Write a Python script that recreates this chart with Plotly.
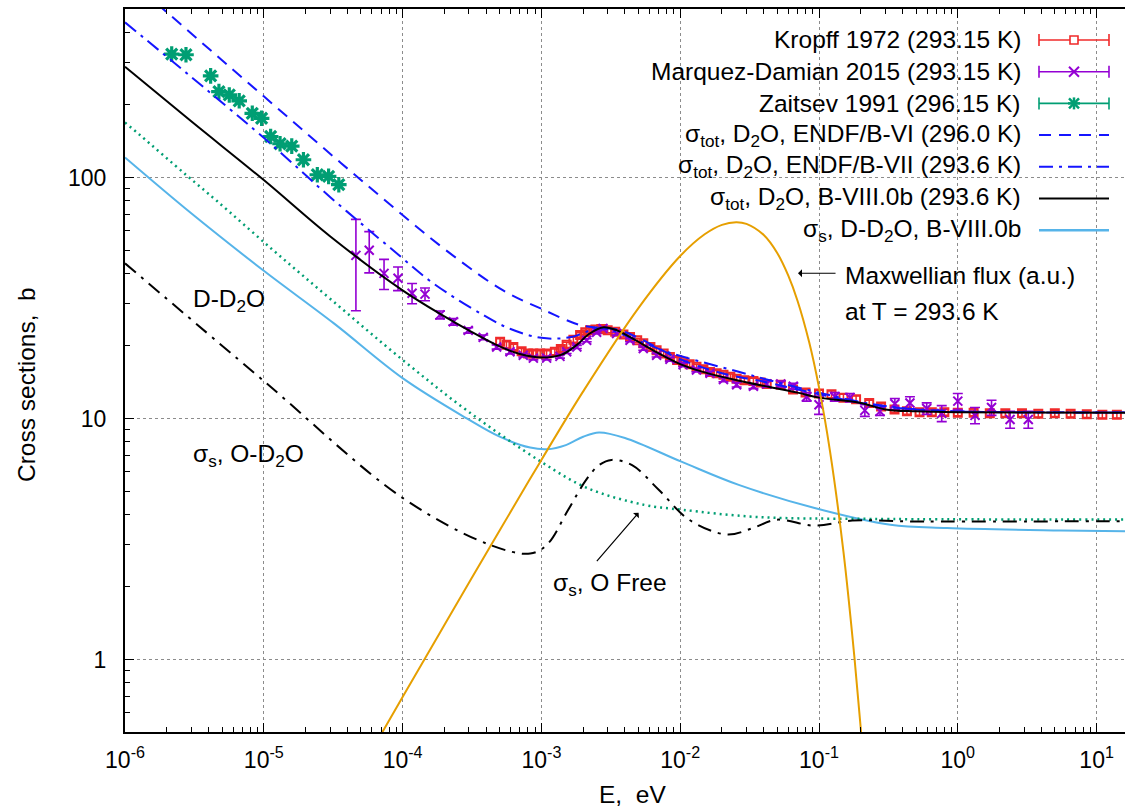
import plotly.graph_objects as go

# ------------------------------------------------------------------ data
# Kropff 1972 (293.15 K)
E_kropff = [5.04e-4, 5.6e-4, 6.28e-4, 7.2e-4, 8.0e-4, 8.75e-4, 9.8e-4, 1.09e-3, 1.25e-3, 1.38e-3,
            1.52e-3, 1.70e-3, 1.90e-3, 2.07e-3, 2.24e-3, 2.45e-3, 2.7e-3, 3.0e-3, 3.4e-3, 3.9e-3,
            4.35e-3, 4.9e-3, 5.42e-3, 6.1e-3, 6.76e-3, 7.6e-3, 8.43e-3, 9.5e-3, 1.05e-2, 1.17e-2,
            1.31e-2, 1.47e-2, 1.64e-2, 1.83e-2, 2.05e-2, 2.3e-2, 2.55e-2, 2.9e-2, 3.37e-2, 3.8e-2,
            4.2e-2, 5.3e-2, 6.5e-2, 8.0e-2, 0.1, 0.123, 0.15, 0.185, 0.23, 0.28,
            0.35, 0.43, 0.53, 0.65, 0.8, 1.0, 1.3, 1.7, 2.2, 2.9,
            3.8, 5.0, 6.5, 8.5, 11.0, 14.0]
sig_kropff = [20.8, 20.2, 19.8, 19.0, 18.6, 18.6, 18.6, 18.6, 18.9, 19.4,
              20.2, 21.2, 22.2, 22.8, 23.2, 23.4, 23.5, 23.2, 22.9, 22.3,
              21.8, 21.1, 20.5, 19.8, 19.2, 18.6, 18.0, 17.5, 17.2, 16.8,
              16.4, 16.0, 15.6, 15.4, 15.2, 14.9, 14.6, 14.4, 14.3, 14.1,
              13.9, 13.8, 13.2, 12.8, 12.7, 12.6, 12.2, 12.0, 11.6, 11.2,
              10.9, 10.7, 10.6, 10.6, 10.6, 10.55, 10.55, 10.5, 10.5, 10.5,
              10.45, 10.5, 10.45, 10.4, 10.35, 10.35]
err_kropff = [0.6, 0.6, 0.5, 0.5, 0.5, 0.5, 0.5, 0.5, 0.5, 0.5,
              0.5, 0.5, 0.5, 0.5, 0.5, 0.5, 0.5, 0.5, 0.5, 0.5,
              0.4, 0.4, 0.4, 0.4, 0.4, 0.4, 0.4, 0.4, 0.4, 0.4,
              0.4, 0.4, 0.4, 0.4, 0.4, 0.4, 0.4, 0.4, 0.4, 0.4,
              0.4, 0.4, 0.4, 0.4, 0.4, 0.4, 0.4, 0.4, 0.3, 0.3,
              0.3, 0.3, 0.3, 0.3, 0.3, 0.3, 0.3, 0.3, 0.3, 0.3,
              0.3, 0.3, 0.3, 0.3, 0.3, 0.3]

# Marquez-Damian 2015 (293.15 K)
E_marquez = [4.61e-5, 5.75e-5, 7.35e-5, 9.27e-5, 1.17e-4, 1.45e-4, 1.86e-4, 2.32e-4, 2.97e-4, 3.81e-4,
             4.76e-4, 5.94e-4, 7.4e-4, 8.75e-4, 1.09e-3, 1.36e-3, 1.52e-3, 1.80e-3, 2.12e-3, 2.5e-3,
             2.78e-3, 3.48e-3, 4.35e-3, 5.42e-3, 6.76e-3, 8.43e-3, 1.05e-2, 1.31e-2, 1.64e-2, 2.05e-2,
             2.55e-2, 3.37e-2, 4.2e-2, 5.3e-2, 6.53e-2, 8.15e-2, 0.100, 0.130, 0.167, 0.214,
             0.275, 0.352, 0.452, 0.597, 0.766, 1.0, 1.33, 1.75, 2.38, 3.22]
sig_marquez = [47.5, 49.9, 40.0, 38.2, 33.1, 32.8, 26.9, 25.2, 23.2, 21.7,
               19.8, 18.9, 18.3, 17.8, 17.8, 18.1, 18.9, 19.8, 21.1, 22.8,
               23.6, 22.5, 21.1, 19.5, 18.3, 17.6, 16.7, 15.9, 15.4, 14.5,
               13.8, 13.6, 13.9, 13.9, 13.6, 12.3, 11.4, 12.3, 12.2, 10.8,
               10.7, 11.5, 11.6, 11.0, 10.5, 11.8, 10.3, 11.1, 9.9, 9.9]
err_marquez = [19.5, 9.7, 5.7, 4.3, 3.2, 2.0, 1.0, 0.8, 0.6, 0.5,
               0.4, 0.4, 0.3, 0.3, 0.3, 0.3, 0.3, 0.3, 0.3, 0.3,
               0.3, 0.3, 0.3, 0.3, 0.3, 0.3, 0.3, 0.3, 0.3, 0.3,
               0.3, 0.3, 0.4, 0.4, 0.4, 0.5, 1.0, 0.5, 0.5, 0.6,
               0.4, 0.6, 0.7, 0.6, 0.8, 0.9, 0.8, 0.8, 0.8, 0.8]

# Zaitsev 1991 (296.15 K)
E_zaitsev = [2.17e-6, 2.75e-6, 4.14e-6, 4.75e-6, 5.64e-6, 6.65e-6, 8.26e-6, 9.64e-6,
             1.12e-5, 1.31e-5, 1.59e-5, 1.93e-5, 2.43e-5, 2.93e-5, 3.47e-5]
sig_zaitsev = [325, 323, 264, 227, 220, 208, 184.6, 176, 147.9, 138, 134.9, 118.4, 102.6, 101, 93.3]

# sigma_tot, D2O, ENDF/B-VI (296.0 K)
E_b6 = [1.7e-6, 1e-5, 4.77e-5, 2.2e-4, 5.3e-4, 1e-3, 1.9e-3, 2.6e-3, 3.5e-3, 5e-3,
        1e-2, 2e-2, 4e-2, 0.1, 0.2, 0.4, 1.0, 20.0]
sig_b6 = [526, 217, 100, 48.4, 34, 28.5, 24.4, 23.8, 23.4, 21.6,
          17.6, 15.4, 14.2, 12.6, 11.6, 11.0, 10.7, 10.6]

# sigma_tot, D2O, ENDF/B-VII (293.6 K)
E_b7 = [1e-6, 1e-5, 3e-5, 8.5e-5, 1.66e-4, 3.8e-4, 6e-4, 1e-3, 1.6e-3, 2.5e-3,
        3e-3, 5e-3, 8.5e-3, 1.46e-2, 2.56e-2, 4.2e-2, 0.1, 0.2, 0.37, 1.0, 20.0]
sig_b7 = [440, 146, 83, 50, 36.4, 26.9, 23.5, 21.6, 21.7, 23.6,
          23.5, 21.0, 18.7, 17.1, 15.7, 14.5, 12.8, 11.7, 11.1, 10.7, 10.6]

# sigma_tot, D2O, B-VIII.0b (293.6 K)
E_b8 = [1e-6, 3e-6, 1e-5, 3e-5, 1e-4, 2e-4, 3e-4, 5e-4, 7e-4, 1e-3,
        1.4e-3, 1.8e-3, 2.2e-3, 2.8e-3, 3.5e-3, 4.4e-3, 6.8e-3, 1e-2, 1.46e-2, 2.56e-2,
        4.4e-2, 7e-2, 0.1, 0.2, 0.3, 0.5, 1.0, 20.0]
sig_b8 = [288, 171, 97.5, 57, 34, 26.5, 23.2, 19.9, 18.5, 17.9,
          18.4, 20.2, 22.4, 23.9, 23.2, 21.7, 18.8, 16.8, 15.6, 14.4,
          13.5, 12.8, 12.2, 11.6, 10.9, 10.7, 10.6, 10.55]

# sigma_s, D-D2O, B-VIII.0b
E_dd2o = [1e-6, 3e-6, 1e-5, 3.2e-5, 1e-4, 2.9e-4, 5e-4, 8.3e-4, 1.1e-3, 1.5e-3,
          2e-3, 2.6e-3, 4e-3, 1.03e-2, 2.64e-2, 9.3e-2, 0.327, 0.836, 5.5, 20.0]
sig_dd2o = [121, 71, 41, 24.8, 14.7, 10.0, 8.4, 7.57, 7.45, 7.75,
            8.4, 8.75, 8.3, 6.6, 5.3, 4.25, 3.62, 3.51, 3.43, 3.40]

# sigma_s, O Free
E_ofree = [1e-6, 1.28e-6, 2.78e-6, 4.58e-6, 1.14e-5, 3e-5, 1e-4, 2.9e-4, 1e-3, 2.13e-3,
           5.5e-3, 1.03e-2, 3.6e-2, 0.24, 20.0]
sig_ofree = [169, 150, 102, 80, 50.5, 31.4, 17.5, 10.8, 6.6, 5.15,
             4.38, 4.18, 3.9, 3.83, 3.81]

# sigma_s, O-D2O
E_od2o = [1e-6, 1e-5, 1e-4, 4.25e-4, 8.3e-4, 1.1e-3, 1.56e-3, 2.1e-3, 2.6e-3, 3.2e-3,
          4.5e-3, 7e-3, 1.16e-2, 2.17e-2, 3.3e-2, 4.95e-2, 9.3e-2, 0.174, 0.45, 20.0]
sig_od2o = [44, 14.3, 4.68, 2.99, 2.75, 3.0, 4.18, 5.56, 6.4, 6.73,
            6.4, 5.06, 3.80, 3.30, 3.5, 3.80, 3.59, 3.77, 3.74, 3.75]

# Maxwellian flux (a.u.) at T = 293.6 K
E_maxw = [7e-5, 1e-4, 2e-4, 5e-4, 1e-3, 2e-3, 5e-3, 1e-2, 1.5e-2, 2e-2,
          2.53e-2, 3e-2, 4e-2, 5e-2, 6e-2, 7e-2, 8.5e-2, 0.1, 0.12, 0.15,
          0.18, 0.2, 0.21]
phi_maxw = [0.489, 0.698, 1.39, 3.43, 6.73, 12.95, 28.7, 47.2, 58.1, 63.6,
            65.2, 64.2, 57.7, 48.6, 39.2, 30.8, 20.7, 13.45, 7.32, 2.80,
            1.02, 0.516, 0.366]

x_tick_vals = [1e-6, 1e-5, 1e-4, 1e-3, 1e-2, 1e-1, 1e0, 1e1]
x_tick_text = ["10<sup>-6</sup>", "10<sup>-5</sup>", "10<sup>-4</sup>", "10<sup>-3</sup>",
               "10<sup>-2</sup>", "10<sup>-1</sup>", "10<sup>0</sup>", "10<sup>1</sup>"]
y_tick_vals = [1, 10, 100]
y_tick_text = ["1", "10", "100"]

# ------------------------------------------------------------------ style
FONT = "Liberation Sans, Arial, Helvetica, sans-serif"
RED = "#f02a2a"
PURPLE = "#9400d3"
GREEN = "#009e73"
BLUE = "#1515ff"
LBLUE = "#56b4e9"
ORANGE = "#e69f00"
W, H = 1125, 807
L, T, R, B = 125, 9, 1125, 732
DASH = "12px,8px"
DASHDOT = "14px,6px,3px,6px"
BDASHDOT = "14px,7px,3px,7px"
DOT = "2px,4px"
TXT = 24.5

fig = go.Figure()

fig.add_trace(go.Scatter(x=E_kropff, y=sig_kropff, mode="markers",
                         marker=dict(symbol="square-open", size=8, color=RED, line=dict(width=2, color=RED)),
                         error_y=dict(type="data", array=err_kropff, color=RED, thickness=1.5, width=4)))
fig.add_trace(go.Scatter(x=E_marquez, y=sig_marquez, mode="markers",
                         marker=dict(symbol="x-thin-open", size=9, color=PURPLE, line=dict(width=2, color=PURPLE)),
                         error_y=dict(type="data", array=err_marquez, color=PURPLE, thickness=1.6, width=5)))
fig.add_trace(go.Scatter(x=E_zaitsev, y=sig_zaitsev, mode="markers",
                         marker=dict(symbol="asterisk-open", size=13, color=GREEN, line=dict(width=3.2, color=GREEN))))
fig.add_trace(go.Scatter(x=E_b6, y=sig_b6, mode="lines", line=dict(color=BLUE, width=2, dash=DASH, shape="spline")))
fig.add_trace(go.Scatter(x=E_b7, y=sig_b7, mode="lines", line=dict(color=BLUE, width=2, dash=DASHDOT, shape="spline")))
fig.add_trace(go.Scatter(x=E_b8, y=sig_b8, mode="lines", line=dict(color="black", width=2, shape="spline")))
fig.add_trace(go.Scatter(x=E_dd2o, y=sig_dd2o, mode="lines", line=dict(color=LBLUE, width=2, shape="spline")))
fig.add_trace(go.Scatter(x=E_ofree, y=sig_ofree, mode="lines", line=dict(color=GREEN, width=2.5, dash=DOT, shape="spline")))
fig.add_trace(go.Scatter(x=E_od2o, y=sig_od2o, mode="lines", line=dict(color="black", width=2, dash=BDASHDOT, shape="spline")))
fig.add_trace(go.Scatter(x=E_maxw, y=phi_maxw, mode="lines", line=dict(color=ORANGE, width=2, shape="spline")))


def px(x, y):
    return (x - L) / (R - L), (B - y) / (B - T)


shapes = []


def seg(x0, y0, x1, y1, color, width=1.5, dash="solid"):
    a, b = px(x0, y0)
    c, d = px(x1, y1)
    shapes.append(dict(type="line", xref="paper", yref="paper", x0=a, y0=b, x1=c, y1=d,
                       line=dict(color=color, width=width, dash=dash)))


annotations = []


def text(x, y, s, anchor="left", size=TXT):
    a, b = px(x, y)
    annotations.append(dict(x=a, y=b, xref="paper", yref="paper", text=s, showarrow=False,
                            xanchor=anchor, yanchor="middle", font=dict(family=FONT, size=size, color="black")))


# ---- custom gnuplot-style key (text on the left, sample on the right)
legend_rows = [40, 71.7, 103.4, 135.1, 166.8, 198.5, 230.2]
legend_text = ["Kropff 1972 (293.15 K)",
               "Marquez-Damian 2015 (293.15 K)",
               "Zaitsev 1991 (296.15 K)",
               "σ<sub>tot</sub>, D<sub>2</sub>O, ENDF/B-VI (296.0 K)",
               "σ<sub>tot</sub>, D<sub>2</sub>O, ENDF/B-VII (293.6 K)",
               "σ<sub>tot</sub>, D<sub>2</sub>O, B-VIII.0b (293.6 K)",
               "σ<sub>s</sub>, D-D<sub>2</sub>O, B-VIII.0b"]
SX0, SX1, SXM = 1039, 1109, 1074
for yy, s in zip(legend_rows, legend_text):
    text(1023, yy, s, anchor="right")
for yy, col in zip(legend_rows[:3], [RED, PURPLE, GREEN]):
    seg(SX0, yy, SX1, yy, col, 1.6)
    seg(SX0, yy - 6, SX0, yy + 6, col, 1.6)
    seg(SX1, yy - 6, SX1, yy + 6, col, 1.6)
# Kropff square
y0 = legend_rows[0]
ax0, ay0 = px(SXM - 4, y0 + 4)
ax1, ay1 = px(SXM + 4, y0 - 4)
shapes.append(dict(type="rect", xref="paper", yref="paper", x0=ax0, y0=ay0, x1=ax1, y1=ay1,
                   line=dict(color=RED, width=1.6), fillcolor="white"))
# Marquez x
y1 = legend_rows[1]
seg(SXM - 5, y1 - 5, SXM + 5, y1 + 5, PURPLE, 2)
seg(SXM - 5, y1 + 5, SXM + 5, y1 - 5, PURPLE, 2)
# Zaitsev asterisk
y2 = legend_rows[2]
seg(SXM - 5, y2 - 5, SXM + 5, y2 + 5, GREEN, 2.5)
seg(SXM - 5, y2 + 5, SXM + 5, y2 - 5, GREEN, 2.5)
seg(SXM, y2 - 6, SXM, y2 + 6, GREEN, 2.5)
seg(SXM - 6, y2, SXM + 6, y2, GREEN, 2.5)
seg(SX0, legend_rows[3], SX1, legend_rows[3], BLUE, 2, DASH)
seg(SX0, legend_rows[4], SX1, legend_rows[4], BLUE, 2, DASHDOT)
seg(SX0, legend_rows[5], SX1, legend_rows[5], "black", 2)
seg(SX0, legend_rows[6], SX1, legend_rows[6], LBLUE, 2.5)

# ---- labels inside the plot
text(191, 300, "D-D<sub>2</sub>O")
text(191, 455, "σ<sub>s</sub>, O-D<sub>2</sub>O")
text(843, 275, "Maxwellian flux (a.u.)")
text(843, 312, "at T = 293.6 K")
text(551, 584, "σ<sub>s</sub>, O Free")

# arrows (head at x, y; tail offset ax, ay in pixels)
annotations.append(dict(x=-1.151, y=1.6025, xref="x", yref="y", ax=39, ay=0, text="",
                        showarrow=True, arrowhead=1, arrowsize=1.1, arrowwidth=1.2, arrowcolor="black"))
annotations.append(dict(x=-2.30, y=0.609, xref="x", yref="y", ax=-43, ay=50, text="",
                        showarrow=True, arrowhead=1, arrowsize=1.1, arrowwidth=1.2, arrowcolor="black"))

# axis titles
xa, ya = px(27, 385)
annotations.append(dict(x=xa, y=ya, xref="paper", yref="paper", text="Cross sections,\u00a0 b",
                        textangle=-90, showarrow=False, xanchor="center", yanchor="middle",
                        font=dict(family=FONT, size=TXT, color="black")))
xa, ya = px(632, 795)
annotations.append(dict(x=xa, y=ya, xref="paper", yref="paper", text="E,\u00a0 eV",
                        showarrow=False, xanchor="center", yanchor="middle",
                        font=dict(family=FONT, size=TXT, color="black")))

GRID = dict(showgrid=True, gridcolor="#8c8c8c", gridwidth=1, griddash="dot")

fig.update_layout(
    width=W, height=H,
    margin=dict(l=L, r=W - R, t=T, b=H - B),
    plot_bgcolor="white", paper_bgcolor="white",
    showlegend=False,
    font=dict(family=FONT, size=23, color="black"),
    shapes=shapes, annotations=annotations,
    xaxis=dict(type="log", range=[-6, 1.2046], tickmode="array", tickvals=x_tick_vals, ticktext=x_tick_text,
               ticks="inside", ticklen=9, tickwidth=1.2, tickcolor="black",
               showline=True, linecolor="black", linewidth=2, mirror="allticks",
               minor=dict(ticks="inside", ticklen=5, tickwidth=1, tickcolor="black", dtick="D1", showgrid=False),
               ticklabelstandoff=6, tickfont=dict(size=23), zeroline=False, **GRID),
    yaxis=dict(type="log", range=[-0.30103, 2.69897], tickmode="array", tickvals=y_tick_vals, ticktext=y_tick_text,
               ticks="inside", ticklen=9, tickwidth=1.2, tickcolor="black",
               showline=True, linecolor="black", linewidth=2, mirror=False,
               minor=dict(ticks="inside", ticklen=5, tickwidth=1, tickcolor="black", dtick="D1", showgrid=False),
               ticklabelstandoff=12, tickfont=dict(size=23), zeroline=False, **GRID),
)

fig.write_html("out.html")
